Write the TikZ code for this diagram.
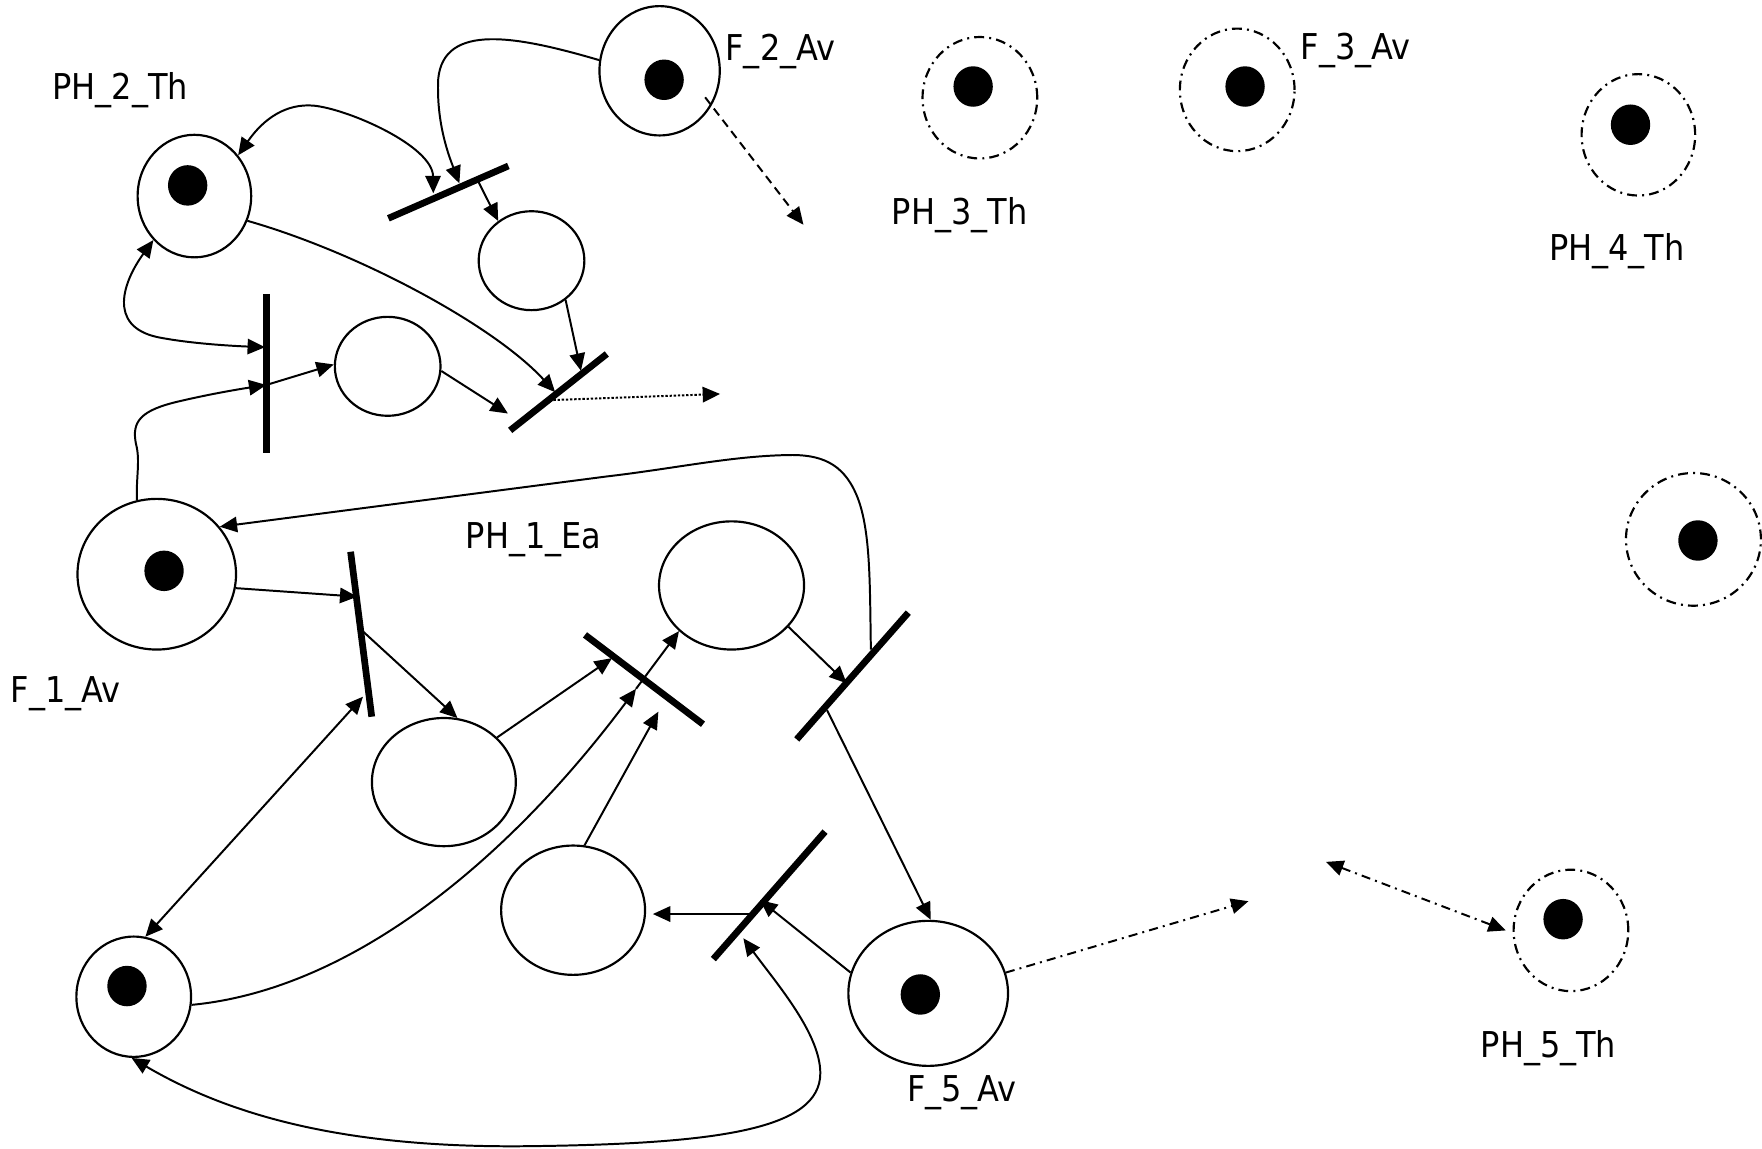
\documentclass[tikz,border=0pt]{standalone}
\usepackage{fontspec}
\newfontfamily\lblfont[FakeStretch=0.9]{DejaVu Sans}
\usetikzlibrary{shapes.geometric,arrows.meta,calc}
\begin{document}
\begin{tikzpicture}[x=0.01cm,y=-0.01cm,
  place/.style={ellipse,draw,line width=0.55pt,inner sep=0pt},
  dplace/.style={place,dash pattern=on 2.5pt off 1.3pt on 0.5pt off 1.3pt},
  tok/.style={ellipse,fill=black,inner sep=0pt,minimum width=0.35cm,minimum height=0.36cm},
  tbar/.style={line width=1.7pt},
  conn/.style={line width=0.5pt,-{Triangle[length=4.4pt,width=3.9pt]}},
  dconn/.style={line width=0.5pt,{Triangle[length=4.4pt,width=3.9pt]}-{Triangle[length=4.4pt,width=3.9pt]}},
  ddline/.style={dash pattern=on 2.3pt off 1.3pt on 0.5pt off 1.3pt},
  lbl/.style={font={\lblfont\fontsize{9pt}{11pt}\selectfont},inner sep=0pt},
]
\path[use as bounding box] (0,0) rectangle (1568,1022);

% places
\node[place,minimum width=1.07cm,minimum height=1.15cm] (F2) at (587,63) {};
\node[tok] (F2t) at (591,71) {};
\node[place,minimum width=1.01cm,minimum height=1.09cm] (PH2) at (173,174.5) {};
\node[tok] (PH2t) at (167,165) {};
\node[place,minimum width=0.94cm,minimum height=0.88cm] (pA) at (473,232) {};
\node[place,minimum width=0.94cm,minimum height=0.88cm] (pB) at (345,326) {};
\node[place,minimum width=1.41cm,minimum height=1.34cm] (F1) at (139.5,511) {};
\node[tok] (F1t) at (146,508) {};
\node[place,minimum width=1.29cm,minimum height=1.14cm] (P6) at (651,521) {};
\node[place,minimum width=1.28cm,minimum height=1.14cm] (P7) at (395,696) {};
\node[place,minimum width=1.28cm,minimum height=1.15cm] (P8) at (510,810) {};
\node[place,minimum width=1.02cm,minimum height=1.07cm] (pBL) at (119,887) {};
\node[tok] (pBLt) at (113,877.5) {};
\node[place,minimum width=1.42cm,minimum height=1.29cm] (F5) at (826,884) {};
\node[tok] (F5t) at (819,885) {};
\node[dplace,minimum width=1.02cm,minimum height=1.08cm] (D3) at (872,87) {};
\node[tok] (D3t) at (866,77) {};
\node[dplace,minimum width=1.02cm,minimum height=1.09cm] (D3b) at (1101,80) {};
\node[tok] (D3bt) at (1108,77) {};
\node[dplace,minimum width=1.01cm,minimum height=1.08cm] (D4) at (1458,120) {};
\node[tok] (D4t) at (1451,111) {};
\node[dplace,minimum width=1.20cm,minimum height=1.18cm] (DR) at (1507,480) {};
\node[tok] (DRt) at (1511,481) {};
\node[dplace,minimum width=1.02cm,minimum height=1.08cm] (D5) at (1398,828) {};
\node[tok] (D5t) at (1391,818) {};

% labels
\node[lbl,anchor=base] (lPH2) at (107,89) {PH\_2\_Th};
\node[lbl,anchor=base west] (lF2) at (645,54) {F\_2\_Av};
\node[lbl,anchor=base] (lPH3) at (854,200) {PH\_3\_Th};
\node[lbl,anchor=base west] (lF3) at (1157,53) {F\_3\_Av};
\node[lbl,anchor=base] (lPH4) at (1439,232) {PH\_4\_Th};
\node[lbl,anchor=base] (lPH1) at (475,488) {PH\_1\_Ea};
\node[lbl,anchor=base west] (lF1) at (9,625) {F\_1\_Av};
\node[lbl,anchor=base] (lF5) at (856,980) {F\_5\_Av};
\node[lbl,anchor=base] (lPH5) at (1378,941) {PH\_5\_Th};

% transitions
\coordinate (t1a) at (345.6,194.3); \coordinate (t1b) at (452.4,147.7);
\coordinate (t2a) at (237.3,261.6); \coordinate (t2b) at (237.3,403.3);
\coordinate (t3a) at (454,383);     \coordinate (t3b) at (540,315);
\coordinate (t4a) at (312,491);     \coordinate (t4b) at (330.8,637.8);
\coordinate (t5a) at (520.6,565);   \coordinate (t5b) at (625.6,644.5);
\coordinate (t6a) at (808.3,545.2); \coordinate (t6b) at (709,658);
\coordinate (t7a) at (734.2,740.1); \coordinate (t7b) at (634.8,853.5);
\foreach \t in {1,...,7} \draw[tbar] (t\t a) -- (t\t b);

% connection points
\coordinate (c1) at (408.8,163.2);
\coordinate (c2) at (385.6,172);
\coordinate (c3) at (425.7,161.7);
\coordinate (c4) at (517,330);
\coordinate (c5) at (494,349);
\coordinate (c6) at (235.8,309);
\coordinate (c7) at (237,342.6);
\coordinate (c8) at (452,368);
\coordinate (c9) at (492.5,356);   \coordinate (c9e) at (640.8,350.6);
\coordinate (c10) at (627.5,86.6); \coordinate (c10e) at (715,200);
\coordinate (c11) at (775,578);
\coordinate (c12) at (318,531);
\coordinate (c13) at (322,561);
\coordinate (c14) at (544.6,585.7);
\coordinate (c15) at (753.5,608.1);
\coordinate (c16) at (736,632);
\coordinate (c17) at (323,620);
\coordinate (c18) at (566,613);
\coordinate (c19) at (585.9,633.3);
\coordinate (c20) at (669,813.4);  \coordinate (c20e) at (581,813.4);
\coordinate (c21) at (676.3,800.9);
\coordinate (c22) at (661.5,835);
\coordinate (c23) at (1111,802);
\coordinate (c24a) at (1180,767);  \coordinate (c24b) at (1340,828);

% arcs, upper part
\draw[conn] (F2.170) .. controls (460,32) and (395,20) .. (390,70)
   .. controls (388,110) and (400,140) .. (c1);
\draw[dconn] (PH2.43) .. controls (235,105) and (255,92) .. (279,94)
   .. controls (310,97) and (385,130) .. (c2);
\draw[conn] (c3) -- (pA.130);
\draw[conn] (pA.-49) -- (c4);
\draw[conn] (PH2.-25) .. controls (320,225) and (440,290) .. (c5);
\draw[dconn] (PH2.227) .. controls (110,250) and (95,290) .. (140,300)
   .. controls (170,306) and (210,308) .. (c6);
\draw[conn] (F1.105) .. controls (121,425) and (125,410) .. (121,395)
   .. controls (117,375) and (125,365) .. (160,357)
   .. controls (190,350) and (215,346) .. (c7);
\draw[conn] (c7) -- (pB.178);
\draw[conn] (pB.-5) -- (c8);
\draw[conn,dash pattern=on 0.6pt off 0.45pt] (c9) -- (c9e);
\draw[conn,dash pattern=on 2.2pt off 1.4pt] (c10) -- (c10e);

% arcs, lower part
\draw[conn] (c11) .. controls (774,520) and (775,470) .. (762,440)
   .. controls (750,412) and (730,404) .. (700,405)
   .. controls (650,406) and (600,417) .. (540,424) -- (F1.37);
\draw[conn] (F1.-10) -- (c12);
\draw[conn] (c13) -- (P7.78);
\draw[conn] (P7.40) -- (c14);
\draw[conn] (P6.-36) -- (c15);
\draw[conn] (c16) -- (F5.88);
\draw[dconn] (pBL.79) -- (c17);
\draw[conn] (pBL.-8) .. controls (320,880) and (460,755) .. (c18);
\draw[conn] (c18) -- (P6.221);
\draw[conn] (P8.80) -- (c19);
\draw[conn] (c20) -- (c20e);
\draw[conn] (F5.165) -- (c21);
\draw[dconn] (pBL.-92) .. controls (200,990) and (300,1022) .. (470,1020)
   .. controls (640,1018) and (730,1005) .. (730,955)
   .. controls (730,920) and (691,875) .. (c22);
\draw[conn,ddline] (F5.15) -- (c23);
\draw[dconn,ddline] (c24a) -- (c24b);
\end{tikzpicture}
\end{document}
